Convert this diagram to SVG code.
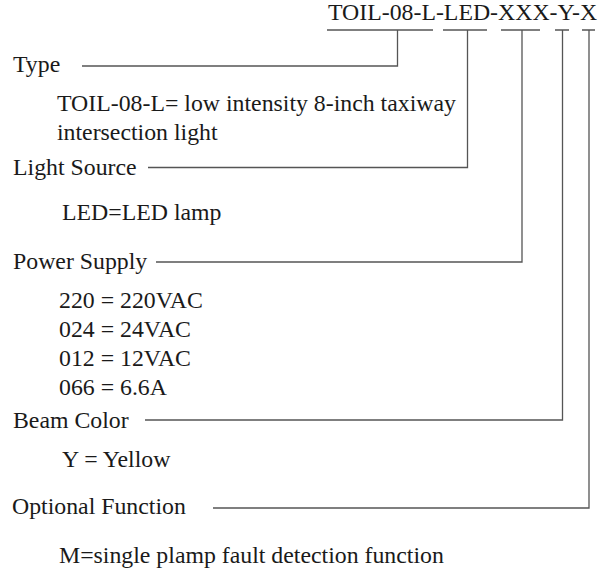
<svg xmlns="http://www.w3.org/2000/svg" width="609" height="571" viewBox="0 0 609 571">
<style>
text{font-family:"Liberation Serif","Times New Roman",serif;font-size:23.8px;fill:#1a1a1a}
.c{fill:none;stroke:#555;stroke-width:1.3}
</style>
<rect width="609" height="571" fill="#fff"/>
<g id="code"><text x="328" y="20">TOIL-08-L-LED-XXX-Y-X</text></g>
<g id="type"><text x="13" y="72">Type</text>
<text x="57" y="111">TOIL-08-L= low intensity 8-inch taxiway</text>
<text x="57" y="140">intersection light</text></g>
<g id="light-source"><text x="13" y="175">Light Source</text>
<text x="62" y="220">LED=LED lamp</text></g>
<g id="power-supply"><text x="13" y="269">Power Supply</text>
<text x="59" y="308">220 = 220VAC</text>
<text x="59" y="337">024 = 24VAC</text>
<text x="59" y="366">012 = 12VAC</text>
<text x="59" y="395">066 = 6.6A</text></g>
<g id="beam-color"><text x="13" y="428">Beam Color</text>
<text x="62" y="467">Y = Yellow</text></g>
<g id="optional-function"><text x="12" y="514">Optional Function</text>
<text x="59" y="563">M=single plamp fault detection function</text></g>
<g id="connectors" class="c">
<path d="M327 30H433M443 30H487M501 30H540M555 30H569M582 30H595"/>
<path d="M82 66H397.5V30"/>
<path d="M148 167.5H467.5V30"/>
<path d="M156 262H522V30"/>
<path d="M145 420H562.5V30"/>
<path d="M213 508H589V30"/>
</g>
</svg>
